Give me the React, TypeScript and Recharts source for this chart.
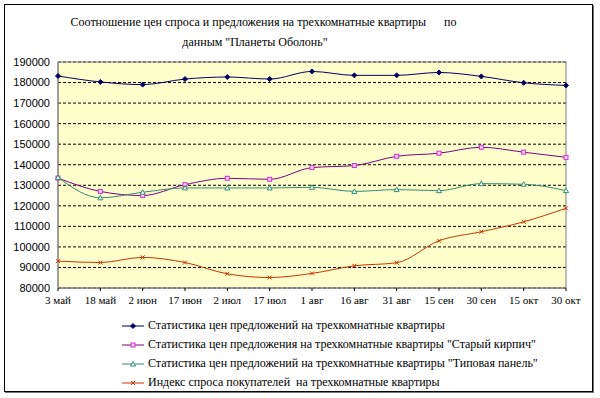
import { CartesianGrid, Line, LineChart, ReferenceArea, XAxis, YAxis } from "recharts";

const dates = ["3 май", "18 май", "2 июн", "17 июн", "2 июл", "17 июл", "1 авг", "16 авг", "31 авг", "15 сен", "30 сен", "15 окт", "30 окт"];
const offerAll = [183200, 180300, 179000, 181700, 182700, 181700, 185400, 183500, 183500, 184900, 183000, 179900, 178600];
const oldBrick = [133500, 127000, 125000, 130300, 133400, 132900, 138600, 139600, 144100, 145600, 148500, 146100, 143600];
const panel = [133800, 123900, 126600, 128700, 128700, 128700, 129000, 127000, 127900, 127400, 130800, 130500, 127400];
const demandIndex = [93100, 92400, 94900, 92400, 86900, 85100, 87100, 90800, 92300, 103000, 107400, 112200, 118800];
const yTicks = [80000, 90000, 100000, 110000, 120000, 130000, 140000, 150000, 160000, 170000, 180000, 190000];

const titleLine1 = "Соотношение цен спроса и предложения на трехкомнатные квартиры      по";
const titleLine2 = "данным \"Планеты Оболонь\"";

const serif = "\"Liberation Serif\", \"Times New Roman\", \"DejaVu Serif\", serif";
const sans = "\"Liberation Sans\", Arial, sans-serif";

type Shape = "diamond" | "square" | "triangle" | "cross";

const series: { key: string; name: string; color: string; marker: string; shape: Shape }[] = [
  { key: "a", name: "Статистика цен предложений на трехкомнатные квартиры", color: "#000066", marker: "#000066", shape: "diamond" },
  { key: "b", name: "Статистика цен предложения на трехкомнатные квартиры \"Старый кирпич\"", color: "#800080", marker: "#cc33cc", shape: "square" },
  { key: "c", name: "Статистика цен предложений на трехкомнатные квартиры \"Типовая панель\"", color: "#2f8f6f", marker: "#2f8f6f", shape: "triangle" },
  { key: "d", name: "Индекс спроса покупателей  на трехкомнатные квартиры", color: "#cc3300", marker: "#cc3300", shape: "cross" },
];

const data = dates.map((d, i) => ({ date: d, a: offerAll[i], b: oldBrick[i], c: panel[i], d: demandIndex[i] }));

function Marker({ cx, cy, shape, color }: { cx: number; cy: number; shape: Shape; color: string }) {
  if (shape === "diamond") return <path d={`M${cx},${cy - 2.5}L${cx + 2.5},${cy}L${cx},${cy + 2.5}L${cx - 2.5},${cy}Z`} fill={color} stroke={color} />;
  if (shape === "square") return <rect x={cx - 2} y={cy - 2} width={4} height={4} fill="#ffccff" stroke={color} strokeWidth={1} />;
  if (shape === "triangle") return <path d={`M${cx},${cy - 2.5}L${cx + 2.5},${cy + 2}L${cx - 2.5},${cy + 2}Z`} fill="#ffffff" stroke={color} />;
  return <path d={`M${cx - 2},${cy - 2}L${cx + 2},${cy + 2}M${cx + 2},${cy - 2}L${cx - 2},${cy + 2}`} stroke={color} />;
}

export default function App() {
  return (
    <div style={{ position: "absolute", left: 0, top: 0, width: 600, height: 398, background: "#fff" }}>
      <div style={{ position: "absolute", left: 4, top: 4, width: 587, height: 386, border: "1px solid #000", boxShadow: "1px 1px 0 #777" }} />
      <div style={{ position: "absolute", left: 0, top: 15, width: 527, textAlign: "center", whiteSpace: "pre", fontFamily: serif, fontSize: 12, color: "#000" }}>
        {titleLine1}
      </div>
      <div style={{ position: "absolute", left: 0, top: 35, width: 510, textAlign: "center", fontFamily: serif, fontSize: 12, color: "#000" }}>
        {titleLine2}
      </div>
      <div style={{ position: "absolute", left: 0, top: 0 }}>
        <LineChart width={600} height={398} data={data} margin={{ top: 62, right: 34, left: 0, bottom: 90 }}>
          <CartesianGrid vertical={false} fill="#ffffcc" stroke="#000" strokeDasharray="3 2" />
          <ReferenceArea x1={dates[0]} x2={dates[dates.length - 1]} y1={80000} y2={190000} fill="none" stroke="#808080" strokeWidth={1} />
          <XAxis
            dataKey="date"
            height={20}
            axisLine={{ stroke: "#808080" }}
            tickLine={{ stroke: "#000" }}
            tickSize={3}
            tickMargin={5}
            interval={0}
            tick={{ fill: "#000", fontSize: 11, fontFamily: serif }}
          />
          <YAxis
            width={58}
            domain={[80000, 190000]}
            ticks={yTicks}
            axisLine={{ stroke: "#808080" }}
            tickLine={false}
            interval={0}
            tick={{ fill: "#000", fontSize: 11, fontFamily: sans }}
          />
          {series.map((s) => (
            <Line
              key={s.key}
              type="monotone"
              dataKey={s.key}
              name={s.name}
              stroke={s.color}
              strokeWidth={1}
              isAnimationActive={false}
              dot={(p: any) => <Marker key={`${s.key}-${p.index}`} cx={p.cx} cy={p.cy} shape={s.shape} color={s.marker} />}
              activeDot={false}
            />
          ))}
        </LineChart>
      </div>
      <div style={{ position: "absolute", left: 120, top: 316, fontFamily: serif, fontSize: 12, color: "#000" }}>
        {series.map((s) => (
          <div key={s.key} style={{ display: "flex", alignItems: "center", height: 19 }}>
            <svg width={26} height={10} style={{ marginRight: 2 }}>
              <line x1={2} y1={5} x2={24} y2={5} stroke={s.color} strokeWidth={1} />
              <Marker cx={13} cy={5} shape={s.shape} color={s.marker} />
            </svg>
            <span style={{ whiteSpace: "pre" }}>{s.name}</span>
          </div>
        ))}
      </div>
    </div>
  );
}
